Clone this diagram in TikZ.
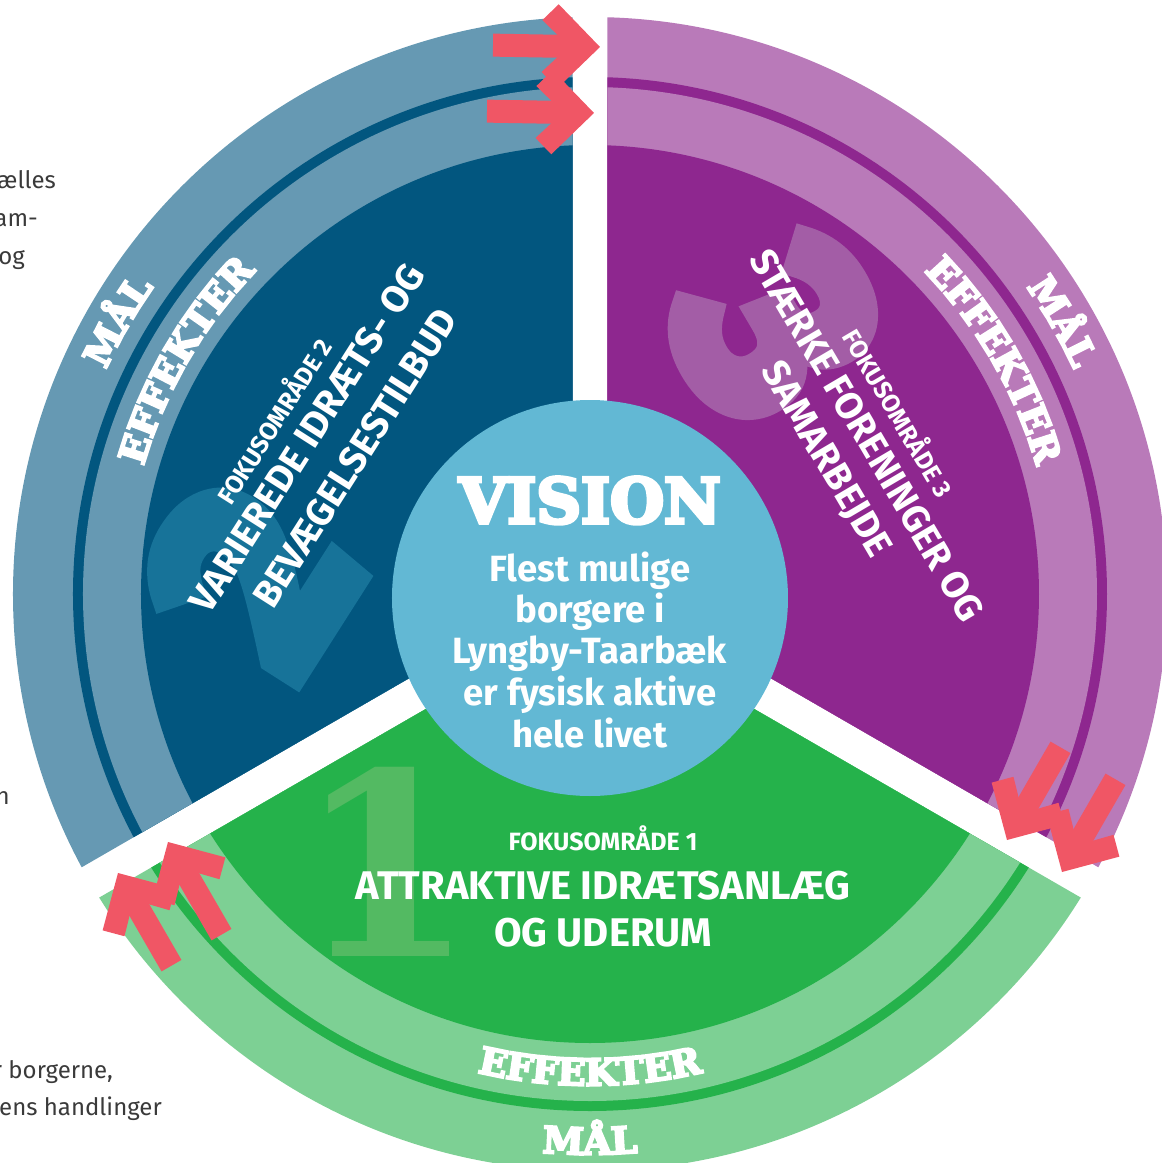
\documentclass[tikz,border=0pt]{standalone}
\usepackage{fontspec}
\setmainfont{Fira Sans}
\newfontfamily\slabfnt{DejaVu Serif}[UprightFont=* Bold, FakeBold=6]
\newfontfamily\onefnt{DejaVu Serif}[UprightFont=* Bold]
\newfontfamily\numfnt{Fira Sans}[UprightFont=* Bold, FakeBold=8]
\usetikzlibrary{decorations.text,calc}
\definecolor{dblue}{HTML}{02567F}
\definecolor{lblue}{HTML}{6699B3}
\definecolor{tblue}{HTML}{177399}
\definecolor{dpurp}{HTML}{8E278F}
\definecolor{lpurp}{HTML}{B97AB9}
\definecolor{tpurp}{HTML}{A35DA6}
\definecolor{dgreen}{HTML}{25B24B}
\definecolor{lgreen}{HTML}{7DD094}
\definecolor{tgreen}{HTML}{53BA62}
\definecolor{vis}{HTML}{62B8D4}
\definecolor{arr}{HTML}{F05665}
\definecolor{gtext}{HTML}{3A3A3A}
\newcommand\pieSector[5]{%
  \begin{scope}
    \clip ($(0,4)+(#1:20.2)$) -- +(#2:1500) -- +(#1:1500) -- +(#3:1500) -- cycle;
    \fill[#5] (0,4) circle[radius=577];
    \fill[#4] (0,4) circle[radius=517];
    \fill[#5] (0,4) circle[radius=507];
    \fill[#4] (0,4) circle[radius=449];
  \end{scope}}
\tikzset{
  redarrow/.pic={
    \fill[arr] (-107,-11.5) rectangle (-25,11.5);
    \fill[arr] (0,0) -- (-42,42) -- (-58,26) -- (-31,0) -- (-58,-26) -- (-42,-42) -- cycle;
  },
  focus/.style={text=white, inner sep=0pt, font=\bfseries\fontsize{38}{38}\selectfont},
  focussmall/.style={text=white, inner sep=0pt, font=\bfseries\fontsize{25}{25}\selectfont},
  bignum/.style={inner sep=0pt, font=\numfnt\fontsize{268}{268}\selectfont},
  visline/.style={text=white, inner sep=0pt, anchor=base, font=\bfseries\fontsize{36.5}{36.5}\selectfont},
  side/.style={text=gtext, inner sep=0pt, anchor=mid east, font=\fontsize{24}{24}\selectfont},
}
\newcommand\arcLabel[4]{% text, radius, start angle, end angle
  \path[decorate, decoration={text along path, text align=center,
    text={|\slabfnt\fontsize{37}{37}\selectfont\color{white}|#1}}]
    ($(0,4)+(#3:#2)$) arc[start angle=#3, end angle=#4, radius=#2];}
\begin{document}
\begin{tikzpicture}[x=1pt,y=1pt]
\useasboundingbox (-590,-565) rectangle (572,598);
% sectors
\pieSector{150}{90}{210}{dblue}{lblue}
\pieSector{30}{-30}{90}{dpurp}{lpurp}
\pieSector{270}{210}{330}{dgreen}{lgreen}
% big numbers
\node[bignum, text=tblue, rotate=57.5] (n2) at (-339,22) {2};
\node[bignum, text=tpurp, rotate=-59.5] (n3) at (187,268) {3};
\node[inner sep=0pt, text=tgreen, font=\onefnt\fontsize{255}{255}\selectfont] (n1) at (-204,-264) {1};
% focus area texts
\node[focussmall, rotate=57.5] (f2a) at (-318,178) {FOKUSOMRÅDE 2};
\node[focus, rotate=57.5] (f2b) at (-283,160) {VARIEREDE IDRÆTS- OG};
\node[focus, rotate=57.5] (f2c) at (-235,140) {BEVÆGELSESTILBUD};
\node[focussmall, rotate=-59.5] (f3a) at (310,186) {FOKUSOMRÅDE 3};
\node[focus, rotate=-59.5] (f3b) at (277,163) {STÆRKE FORENINGER OG};
\node[focus, rotate=-59.5] (f3c) at (235,138) {SAMARBEJDE};
\node[focussmall, anchor=base] (f1a) at (13,-252) {FOKUSOMRÅDE 1};
\node[focus, anchor=base, font=\bfseries\fontsize{40}{40}\selectfont] (f1b) at (13,-301.5) {ATTRAKTIVE IDRÆTSANLÆG};
\node[focus, anchor=base, font=\bfseries\fontsize{40}{40}\selectfont] (f1c) at (13,-348.5) {OG UDERUM};
% arc labels
\arcLabel{MÅL}{533.5}{175}{125}
\arcLabel{EFFEKTER}{464.5}{185}{115}
\arcLabel{MÅL}{533.5}{55}{5}
\arcLabel{EFFEKTER}{464.5}{65}{-5}
\arcLabel{EFFEKTER}{491.5}{235}{305}
\arcLabel{MÅL}{560.5}{245}{295}
% vision
\fill[vis] (0,0) circle[radius=198];
\node[inner sep=0pt, anchor=base, text=white, font=\slabfnt\fontsize{62}{62}\selectfont] (vt) at (0,75) {VISION};
\node[visline] (v1) at (0,17) {Flest mulige};
\node[visline] (v2) at (0,-24) {borgere i};
\node[visline] (v3) at (0,-65) {Lyngby-Taarbæk};
\node[visline] (v4) at (0,-107) {er fysisk aktive};
\node[visline] (v5) at (0,-149) {hele livet};
% arrows
\pic[rotate=-1] at (10,551) {redarrow};
\pic[rotate=-1] at (4,485) {redarrow};
\pic[rotate=-120] at (417,-242) {redarrow};
\pic[rotate=-120] at (472,-274) {redarrow};
\pic[rotate=120] at (-472,-275) {redarrow};
\pic[rotate=120] at (-422,-244) {redarrow};
% side text fragments
\node[side] (s1) at (-534,412) {ælles};
\node[side] (s2) at (-552,374) {am-};
\node[side] (s3) at (-565,336) {og};
\node[side] (s4) at (-580,-204) {n};
\node[side] (s5) at (-477,-478) {r borgerne,};
\node[side] (s6) at (-428,-515) {ens handlinger};
\end{tikzpicture}
\end{document}
